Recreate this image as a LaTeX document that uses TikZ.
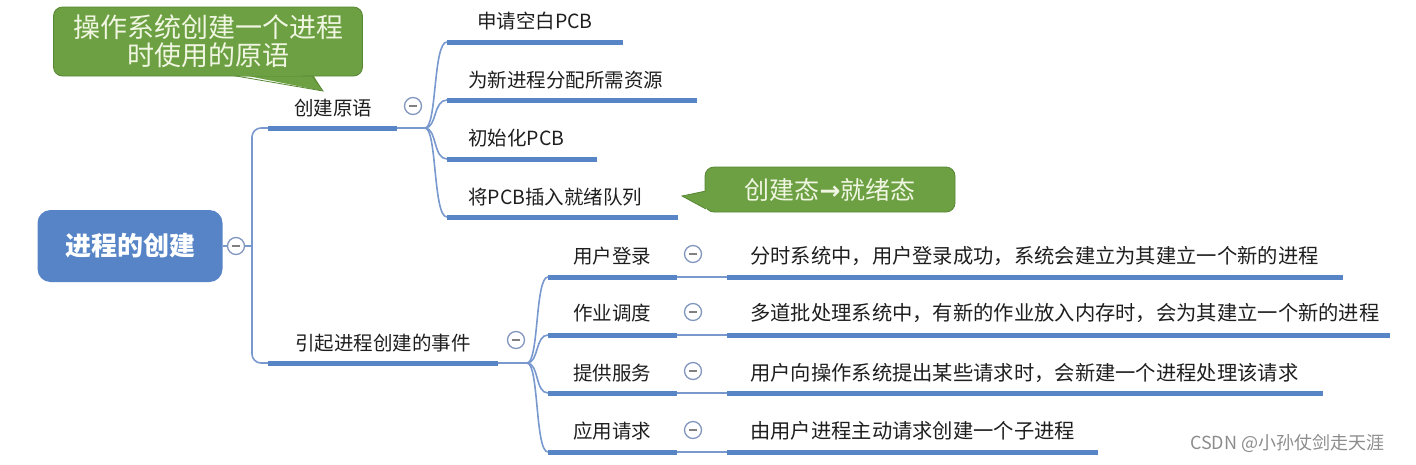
\documentclass[tikz,border=0pt]{standalone}
\usepackage{fontspec}
\setmainfont{Noto Sans CJK SC}
\newfontfamily\arrowfont{DejaVu Sans}
\definecolor{lineblue}{RGB}{88,133,197}
\definecolor{thinblue}{RGB}{120,152,206}
\definecolor{rootblue}{RGB}{86,132,198}
\definecolor{collgray}{RGB}{130,150,190}
\definecolor{callgreen}{RGB}{108,160,66}
\definecolor{callborder}{RGB}{88,135,52}
\definecolor{calltext}{RGB}{240,246,226}
\definecolor{txt}{RGB}{30,30,30}
\tikzset{
  thickline/.style={draw=lineblue,line width=5pt,line cap=butt},
  thinline/.style={draw=thinblue,line width=1.6pt},
  rootbox/.style={rounded corners=13pt,fill=rootblue,minimum width=185pt,minimum height=72pt,text=white,font=\fontsize{26}{30}\selectfont\bfseries,inner sep=0pt},
  coll/.style={circle,draw=collgray,line width=1.3pt,fill=white,minimum size=17pt,inner sep=0pt,
    path picture={\draw[gray,line width=1.4pt] ([xshift=-4pt]path picture bounding box.center) -- ([xshift=4pt]path picture bounding box.center);}},
  lbl/.style={text=txt,font=\fontsize{19.5}{22}\selectfont,inner sep=0pt},
  desc/.style={text=txt,font=\fontsize{20.3}{22}\selectfont,inner sep=0pt,anchor=west},
  callout/.style={rounded corners=9pt,fill=callgreen,draw=callborder,line width=0.8pt,text=calltext,align=center,inner sep=0pt},
}
\begin{document}
\begin{tikzpicture}[x=1pt,y=-1pt]
\useasboundingbox (0,0) rectangle (1416,464);

% root
\node[rootbox] (root) at (130,246) {进程的创建};
\node[coll] (c0) at (236,246) {};
\draw[thinline] (root.east) -- (c0.west);

% level-1 coordinates
\coordinate (a1s) at (268,128);
\coordinate (a1e) at (397,128);
\coordinate (j1) at (425,128);
\coordinate (a2s) at (268,363);
\coordinate (a2e) at (498,363);
\coordinate (j2) at (527,363);

\draw[thinline,rounded corners=9pt] (a1s) -- (252,128) -- (252,363) -- (a2s);
\draw[thinline] (c0.east) -- (252,246);

% branch 1
\node[lbl] (t1) at (333,108) {创建原语};
\draw[thickline] (a1s) -- (a1e);
\draw[thinline] (a1e) -- (j1);
\node[coll] (c1) at (413,106) {};

\foreach \n/\y/\xe in {1/42/623,2/100/697,3/159/597,4/217/678}{
  \coordinate (b\n s) at (447,\y);
  \coordinate (b\n e) at (\xe,\y);
  \draw[thinline] (j1) .. controls (437,128) and (433,\y) .. (b\n s);
  \draw[thickline] (b\n s) -- (b\n e);
}
\node[lbl,anchor=west] (s1) at (477,21) {申请空白PCB};
\node[lbl,anchor=west] (s2) at (468,80) {为新进程分配所需资源};
\node[lbl,anchor=west] (s3) at (468,138) {初始化PCB};
\node[lbl,anchor=west] (s4) at (468,197) {将PCB插入就绪队列};

% branch 2
\node[lbl] (t2) at (383,343) {引起进程创建的事件};
\draw[thickline] (a2s) -- (a2e);
\draw[thinline] (a2e) -- (j2);
\node[coll] (c2) at (516,340) {};

\foreach \n/\y/\ly/\cy/\xe/\txt/\dtxt in {
  1/277/256/254/1343/用户登录/{分时系统中，用户登录成功，系统会建立为其建立一个新的进程},
  2/335/313/312/1390/作业调度/{多道批处理系统中，有新的作业放入内存时，会为其建立一个新的进程},
  3/393/373/371/1323/提供服务/{用户向操作系统提出某些请求时，会新建一个进程处理该请求},
  4/452/431/430/1098/应用请求/{由用户进程主动请求创建一个子进程}}{
  \coordinate (e\n s) at (548,\y);
  \coordinate (e\n e) at (677,\y);
  \coordinate (d\n s) at (727,\y);
  \coordinate (d\n e) at (\xe,\y);
  \draw[thinline] (j2) .. controls (539,363) and (535,\y) .. (e\n s);
  \draw[thickline] (e\n s) -- (e\n e);
  \draw[thinline] (e\n e) -- (d\n s);
  \draw[thickline] (d\n s) -- (d\n e);
  \node[lbl] (l\n) at (612,\ly) {\txt};
  \node[coll] (k\n) at (693,\cy) {};
  \node[desc] (m\n) at (750,\ly) {\dtxt};
}

% callout 1
\coordinate (tip1) at (323,91);
\fill[callgreen] (233,73) -- (tip1) -- (312,73) -- cycle;
\draw[callborder,line width=0.8pt] (233,75.5) -- (tip1) -- (312,75.5);
\node[callout,minimum width=309pt,minimum height=69pt,font=\fontsize{27}{28}\selectfont] (call1) at (208,41.5) {操作系统创建一个进程\\时使用的原语};
\fill[callgreen] (236,73) -- (309,73) -- (300,76) -- (240,76) -- cycle;

% callout 2
\coordinate (tip2) at (682,196);
\draw[callborder,fill=callgreen,line width=0.8pt] (706,191) -- (tip2) -- (706,209);
\node[callout,minimum width=250pt,minimum height=45pt,font=\fontsize{25}{28}\selectfont] (call2) at (830,189.5) {创建态{\arrowfont\bfseries →}就绪态};
\fill[callgreen] (704,192) -- (708,192) -- (708,208) -- (704,208) -- cycle;

% watermark
\node[anchor=west,text=black!45,font=\fontsize{18}{20}\selectfont,inner sep=0pt] (wm) at (1190,443) {CSDN @小孙仗剑走天涯};
\end{tikzpicture}
\end{document}
